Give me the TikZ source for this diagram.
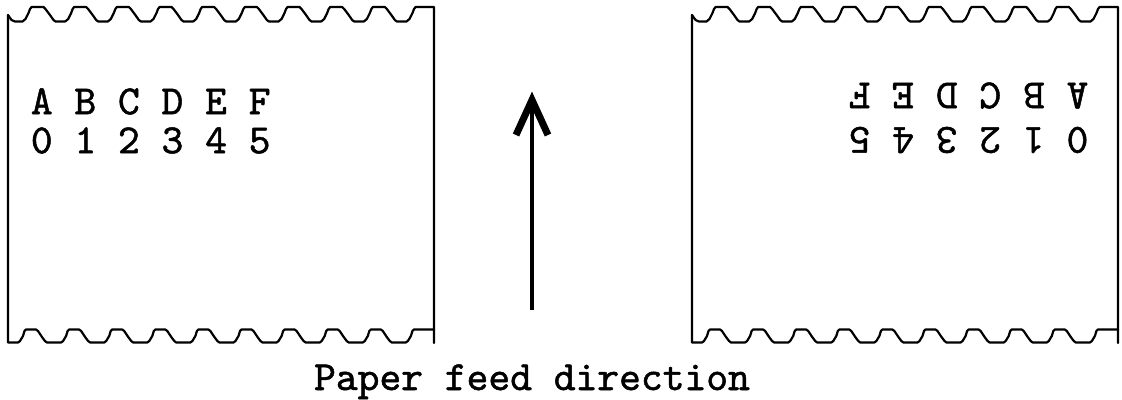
\documentclass[tikz,border=0pt]{standalone}
\usepackage{fontspec}
\newfontfamily\papermono{lmmono10-regular.otf}[FakeBold=1.2]
\begin{document}
\begin{tikzpicture}[x=1pt,y=-1pt,
  edge/.style={line width=2.2pt, line join=round, line cap=round},
  chars/.style={font=\fontsize{41.5}{41.5}\selectfont\papermono, inner sep=0pt, outer sep=0pt},
  shaft/.style={line width=4.8pt},
  barb/.style={line width=7pt, line join=miter},
  paper/.pic={
    % left edge and bottom scalloped edge
    \draw[edge] (8,15) -- (8,342.5) -- (18,342.5)
      \foreach \k in {0,...,8}{
        -- ({31+43.1*\k-11},341) -- ({31+43.1*\k-8},336) -- ({31+43.1*\k-6.5},331) -- ({31+43.1*\k-5},329.5)
        -- ({31+43.1*\k+5},329.5) -- ({31+43.1*\k+7},331) -- ({31+43.1*\k+11},337) -- ({31+43.1*\k+14},341)
        -- ({31+43.1*\k+16},342.5) -- ({31+43.1*\k+30.1},342.5)
      }
      -- (407.9,341) -- (410.9,336) -- (412.4,331) -- (413.9,329.5) -- (434,329.5);
    % top scalloped edge and right edge
    \draw[edge] (8,15) -- (11.5,20) -- (15,21.5)
      \foreach \k in {0,...,8}{
        -- ({37.5+42.67*\k-15},21.5) -- ({37.5+42.67*\k-12},19) -- ({37.5+42.67*\k-9},13)
        -- ({37.5+42.67*\k-7.5},9) -- ({37.5+42.67*\k-6},7)
        -- ({37.5+42.67*\k+6},7) -- ({37.5+42.67*\k+8},9) -- ({37.5+42.67*\k+12.5},15)
        -- ({37.5+42.67*\k+16},20) -- ({37.5+42.67*\k+18},21.5)
      }
      -- (406.5,21.5) -- (409.5,19) -- (412.5,13) -- (414,9) -- (415.5,7) -- (434,7) -- (434,343);
  }
]
\useasboundingbox (0,0) rectangle (1122,399);

\pic (leftpaper) at (0,0) {paper};
\pic (rightpaper) at (684,0) {paper};

\node[chars] (lletters) at (150.7,101.5) {A B C D E F};
\node[chars] (ldigits) at (150.7,140.5) {0 1 2 3 4 5};
\node[chars, rotate=180] (rletters) at (968.5,95.5) {A B C D E F};
\node[chars, rotate=180] (rdigits) at (968.5,140) {0 1 2 3 4 5};

\coordinate (tail) at (532,310);
\coordinate (tip) at (532,100);
\coordinate (barbl) at (516,135);
\coordinate (barbr) at (548,135);
\draw[shaft] (tail) -- (tip);
\draw[barb] (barbl) -- (tip) -- (barbr);

\node[chars, anchor=base] (caption) at (532,390) {Paper feed direction};
\end{tikzpicture}
\end{document}
